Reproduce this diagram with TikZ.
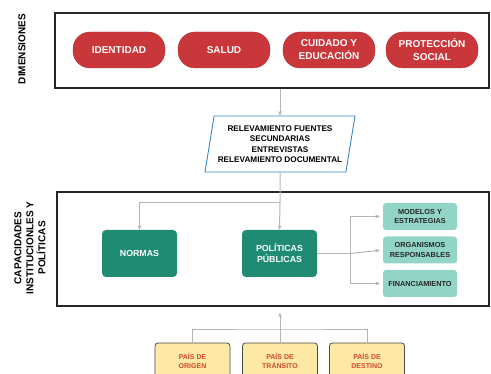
\documentclass[tikz,border=0pt]{standalone}
\usepackage{fontspec}
\setmainfont{Liberation Sans}
\usetikzlibrary{arrows.meta,shapes.geometric}

\definecolor{pillred}{HTML}{C9373B}
\definecolor{tealdark}{HTML}{1F8B73}
\definecolor{teallight}{HTML}{92D5C6}
\definecolor{paisyellow}{HTML}{FDE8A4}
\definecolor{paistext}{HTML}{D4492A}
\definecolor{paraline}{HTML}{3A86C5}
\definecolor{connline}{HTML}{B5B5B5}

\tikzset{
  frame/.style={draw=black!85, line width=1.4pt},
  sidelabel/.style={rotate=90, align=center, font=\fontsize{10}{12}\selectfont\bfseries},
  pill/.style={fill=pillred, draw=pillred!85!black, rounded corners=17pt,
    minimum width=92pt, minimum height=36pt, text=white, align=center,
    font=\fontsize{10}{13}\selectfont\bfseries},
  fuente/.style={trapezium, trapezium left angle=77, trapezium right angle=103,
    trapezium stretches body, draw=paraline, line width=0.9pt, fill=white,
    minimum width=150pt, minimum height=56pt, inner sep=1pt, align=center,
    font=\fontsize{8.2}{10.5}\selectfont\bfseries},
  capbox/.style={fill=tealdark, rounded corners=4pt, minimum width=75pt,
    minimum height=47pt, text=white, align=center,
    font=\fontsize{8.8}{11}\selectfont\bfseries},
  subbox/.style={fill=teallight, rounded corners=3pt, minimum width=74pt,
    minimum height=27pt, text=black!85, align=center,
    font=\fontsize{7.3}{9.5}\selectfont\bfseries},
  paisbox/.style={fill=paisyellow, draw=black!70, line width=0.8pt, rounded corners=3pt,
    minimum width=75pt, minimum height=36pt, text=paistext, align=center,
    font=\fontsize{7}{9}\selectfont\bfseries},
  conn/.style={draw=connline, line width=1pt}
}

\begin{document}
\begin{tikzpicture}[x=1pt, y=-1pt, >={Stealth[length=4.5pt,width=4pt]}]
    \useasboundingbox (0,0) rectangle (491,374);
    % marcos
    \node[frame, minimum width=434pt, minimum height=75pt] (F0) at (272,50.5) {};
    \node[frame, minimum width=432pt, minimum height=114pt] (F1) at (273,249) {};
    \node[sidelabel] (L0) at (22,49) {DIMENSIONES};
    \node[sidelabel] (L1) at (30,248) {CAPACIDADES\\INSTITUCIONLES Y\\POLÍTICAS};
    % dimensiones
    \node[pill] (D0) at (119,50) {IDENTIDAD};
    \node[pill] (D1) at (224,50) {SALUD};
    \node[pill] (D2) at (329,50) {CUIDADO Y\\EDUCACIÓN};
    \node[pill] (D3) at (432,50) {PROTECCIÓN\\SOCIAL};
    % fuentes
    \node[fuente] (P) at (280,144) {RELEVAMIENTO FUENTES\\SECUNDARIAS\\ENTREVISTAS\\RELEVAMIENTO DOCUMENTAL};
    % capacidades
    \node[capbox] (N) at (139.5,253.5) {NORMAS};
    \node[capbox] (PP) at (279.5,253.5) {POLÍTICAS\\PÚBLICAS};
    \node[subbox] (S0) at (420,216.5) {MODELOS Y\\ESTRATEGIAS};
    \node[subbox] (S1) at (420,250) {ORGANISMOS\\RESPONSABLES};
    \node[subbox] (S2) at (420,283.5) {FINANCIAMIENTO};
    % paises
    \node[paisbox] (C0) at (192.5,361) {PAÍS DE\\ORIGEN};
    \node[paisbox] (C1) at (280,361) {PAÍS DE\\TRÁNSITO};
    \node[paisbox] (C2) at (367,361) {PAÍS DE\\DESTINO};
    \coordinate (J0) at (280,203);
    \coordinate (J1) at (350,253.5);
    \coordinate (J2) at (280,330);
    % conectores
    \path (F0.south -| P.north) edge [conn,->] (P.north);
    \draw[conn] (P.south) -- (J0);
    \draw[conn,->] (J0) -| (N.north);
    \draw[conn,->] (J0) -- (PP.north);
    \draw[conn] (PP.east) -- (J1);
    \draw[conn,->,shorten >=3pt] (J1) |- (S0.west);
    \draw[conn,->,shorten >=3pt] (J1) -- (S1.west);
    \draw[conn,->,shorten >=3pt] (J1) |- (S2.west);
    \draw[conn] (C0.north) |- (J2) -| (C2.north);
    \path (C1.north) edge [conn,->,shorten >=6pt] (F1.south -| C1.north);
\end{tikzpicture}
\end{document}
